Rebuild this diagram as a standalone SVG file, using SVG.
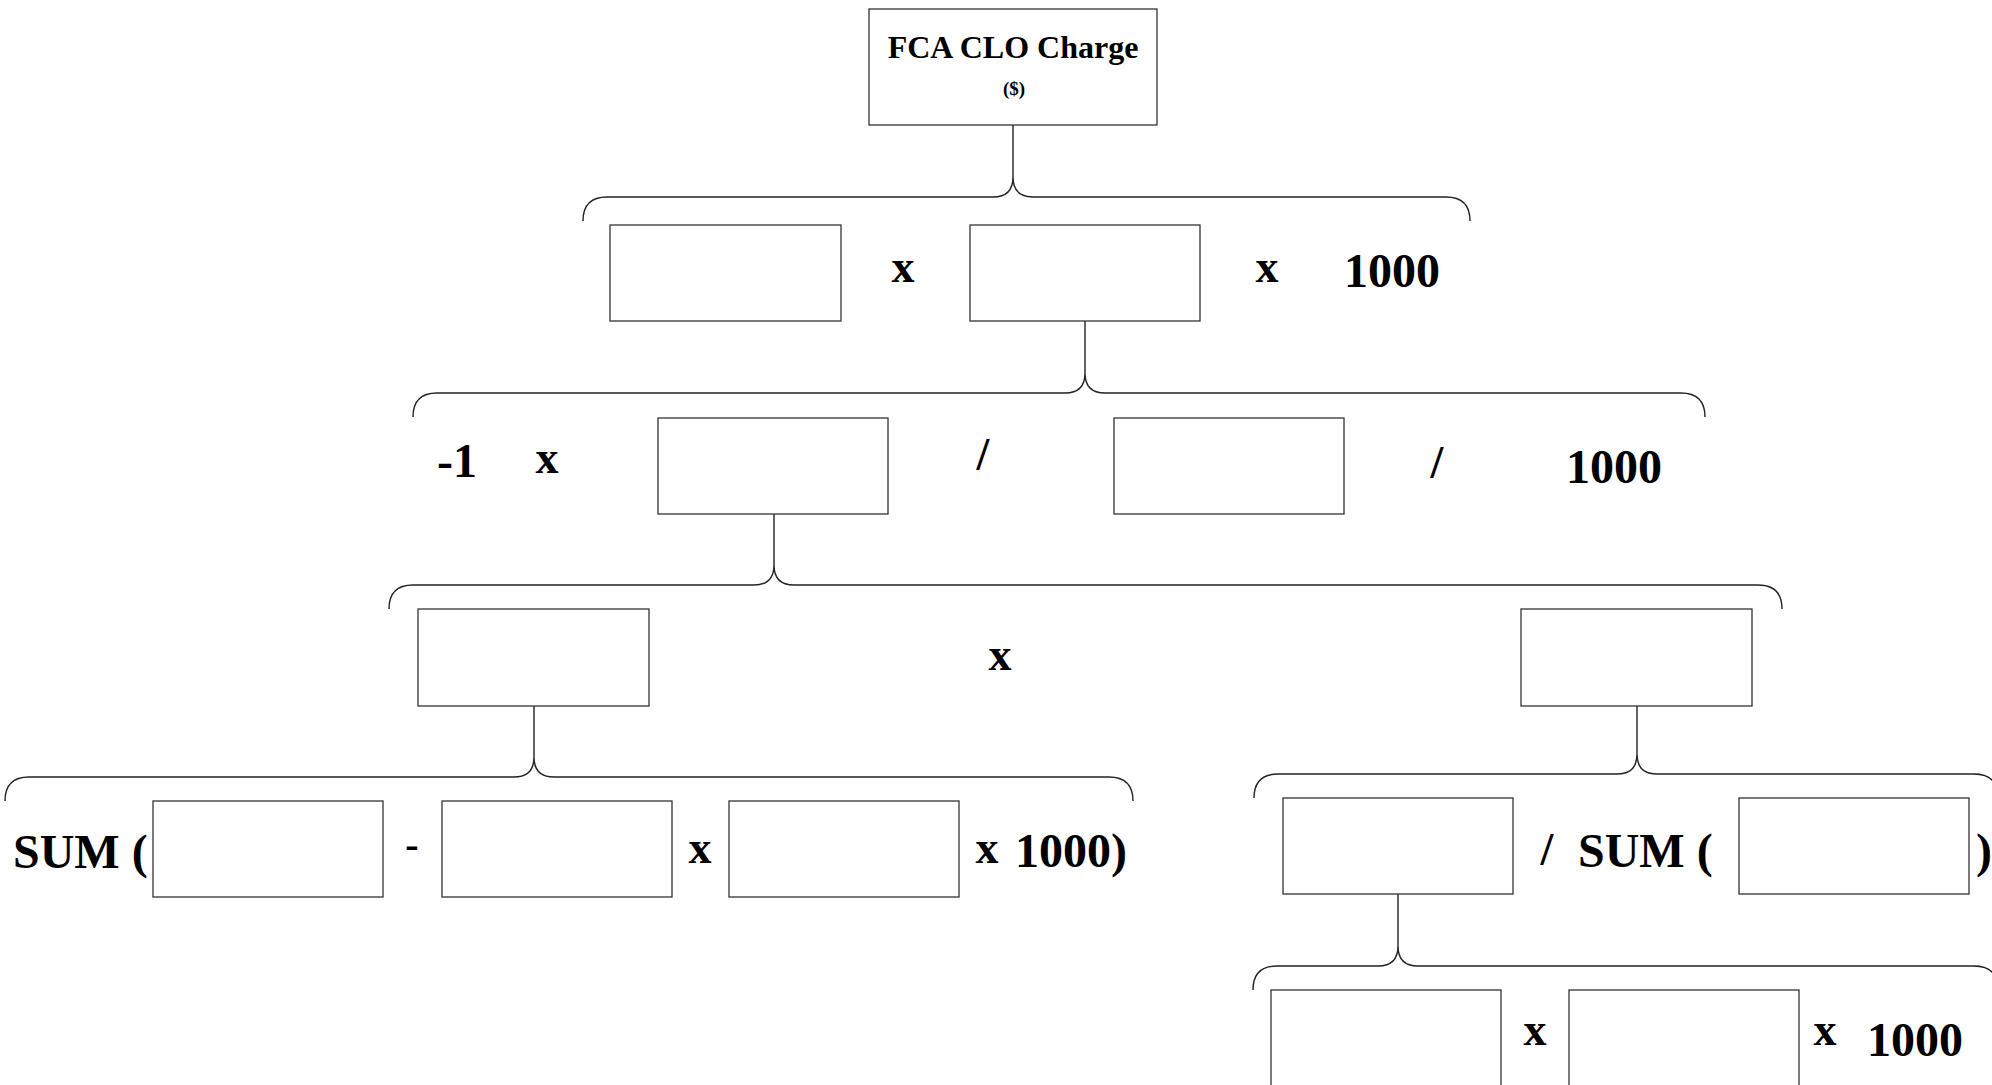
<svg xmlns="http://www.w3.org/2000/svg" width="1992" height="1085" viewBox="0 0 1992 1085">
<style>
.bg{fill:#fff}
.box{fill:#fff;stroke:#333;stroke-width:1.3}
.br{fill:none;stroke:#222;stroke-width:1.4}
.t{font-family:"Liberation Serif","Times New Roman",serif;font-weight:bold;fill:#000}
.op{font-size:46px;text-anchor:middle}
.num{font-size:48px}
</style>
<rect class="bg" x="0" y="0" width="1992" height="1085"/>
<g id="connectors">
  <path class="br" d="M1013,125 V177 M583,221 Q583,197 607,197 H993 Q1013,197 1013,177 Q1013,197 1033,197 H1446 Q1470,197 1470,221"/>
  <path class="br" d="M1085,321 V373 M413,417 Q413,393 437,393 H1065 Q1085,393 1085,373 Q1085,393 1105,393 H1681 Q1705,393 1705,417"/>
  <path class="br" d="M774,513 V565 M389,609 Q389,585 413,585 H754 Q774,585 774,565 Q774,585 794,585 H1758 Q1782,585 1782,609"/>
  <path class="br" d="M534,706 V757 M5,801 Q5,777 29,777 H514 Q534,777 534,757 Q534,777 554,777 H1109 Q1133,777 1133,801"/>
  <path class="br" d="M1637,706 V754 M1254,798 Q1254,774 1278,774 H1617 Q1637,774 1637,754 Q1637,774 1657,774 H1974 Q1998,774 1998,798"/>
  <path class="br" d="M1398,894 V946 M1253,990 Q1253,966 1277,966 H1378 Q1398,966 1398,946 Q1398,966 1418,966 H1974 Q1998,966 1998,990"/>
</g>
<g id="root">
  <rect class="box" x="869" y="9" width="288" height="116"/>
  <text class="t" x="1013" y="58" font-size="32" text-anchor="middle">FCA CLO Charge</text>
  <text class="t" x="1014" y="95" font-size="19" text-anchor="middle">($)</text>
</g>
<g id="level1">
  <rect id="n1a" class="box" x="610" y="225" width="231" height="96"/>
  <text class="t op" x="903" y="282">x</text>
  <rect id="n1b" class="box" x="970" y="225" width="230" height="96"/>
  <text class="t op" x="1267" y="282">x</text>
  <text class="t num" x="1392" y="287" text-anchor="middle">1000</text>
</g>
<g id="level2">
  <text class="t num" x="457" y="477" text-anchor="middle">-1</text>
  <text class="t op" x="547" y="473">x</text>
  <rect id="n2a" class="box" x="658" y="418" width="230" height="96"/>
  <text class="t op" x="983" y="470" font-size="44">/</text>
  <rect id="n2b" class="box" x="1114" y="418" width="230" height="96"/>
  <text class="t op" x="1437" y="478" font-size="44">/</text>
  <text class="t num" x="1614" y="483" text-anchor="middle">1000</text>
</g>
<g id="level3">
  <rect id="n3a" class="box" x="418" y="609" width="231" height="97"/>
  <text class="t op" x="1000" y="670">x</text>
  <rect id="n3b" class="box" x="1521" y="609" width="231" height="97"/>
</g>
<g id="level4left">
  <text class="t num" x="13" y="868">SUM (</text>
  <rect id="n4a" class="box" x="153" y="801" width="230" height="96"/>
  <text class="t" x="412" y="858" font-size="40" text-anchor="middle">-</text>
  <rect id="n4b" class="box" x="442" y="801" width="230" height="96"/>
  <text class="t op" x="700" y="863">x</text>
  <rect id="n4c" class="box" x="729" y="801" width="230" height="96"/>
  <text class="t op" x="987" y="863">x</text>
  <text class="t num" x="1015" y="867">1000</text>
  <text class="t num" x="1111" y="867">)</text>
</g>
<g id="level4right">
  <rect id="n4d" class="box" x="1283" y="798" width="230" height="96"/>
  <text class="t op" x="1547" y="865" font-size="44">/</text>
  <text class="t num" x="1578" y="867">SUM (</text>
  <rect id="n4e" class="box" x="1739" y="798" width="230" height="96"/>
  <text class="t num" x="1976" y="867">)</text>
</g>
<g id="level5">
  <rect id="n5a" class="box" x="1271" y="990" width="230" height="110"/>
  <text class="t op" x="1535" y="1045">x</text>
  <rect id="n5b" class="box" x="1569" y="990" width="230" height="110"/>
  <text class="t op" x="1825" y="1045">x</text>
  <text class="t num" x="1915" y="1056" text-anchor="middle">1000</text>
</g>
</svg>
